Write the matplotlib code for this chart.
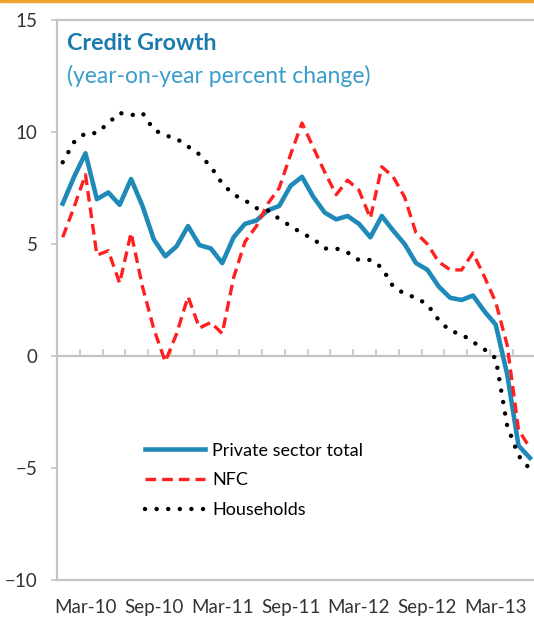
import numpy as np
import matplotlib
matplotlib.use("Agg")
import matplotlib.pyplot as plt
from matplotlib.patches import Rectangle

plt.rcParams['font.family'] = ['Lato', 'DejaVu Sans']

# monthly observations, Jan-10 .. Jun-13
months = np.arange(42)
tick_pos = [2, 8, 14, 20, 26, 32, 38]
tick_labels = ["Mar-10", "Sep-10", "Mar-11", "Sep-11", "Mar-12", "Sep-12", "Mar-13"]

private_total = [6.8, 8.0, 9.05, 7.0, 7.3, 6.75, 7.9, 6.7, 5.2, 4.45,
                 4.9, 5.8, 4.95, 4.8, 4.15, 5.3, 5.9, 6.05, 6.5, 6.7,
                 7.6, 8.0, 7.1, 6.4, 6.1, 6.25, 5.9, 5.3, 6.25, 5.6,
                 5.0, 4.15, 3.85, 3.1, 2.6, 2.5, 2.7, 2.0, 1.4, -0.8,
                 -4.0, -4.55]
nfc = [5.3, 6.65, 8.1, 4.5, 4.7, 3.25, 5.5, 3.1, 1.2, -0.25,
       1.0, 2.65, 1.25, 1.5, 1.0, 3.5, 5.1, 5.8, 6.8, 7.5,
       9.0, 10.4, 9.3, 8.2, 7.2, 7.85, 7.4, 6.15, 8.45, 8.0,
       7.1, 5.5, 5.0, 4.2, 3.85, 3.84, 4.6, 3.55, 2.4, 0.5,
       -3.3, -4.1]
households = [8.65, 9.55, 9.95, 9.95, 10.4, 10.85, 10.75, 10.85, 10.1, 9.85,
              9.7, 9.35, 9.0, 8.45, 7.7, 7.2, 6.95, 6.6, 6.5, 6.12,
              5.8, 5.48, 5.23, 4.8, 4.8, 4.62, 4.28, 4.29, 3.95, 3.1,
              2.78, 2.6, 2.3, 1.6, 1.12, 0.97, 0.63, 0.3, -0.1, -3.1,
              -4.45, -5.05]

grey = '#c4c4c4'
blue = '#1f8ab8'
red = '#ff1f1f'

fig = plt.figure(figsize=(5.34, 6.19), dpi=100)
ax = fig.add_axes([57 / 534, 39 / 619, 490 / 534, 560 / 619])

ax.plot(months, private_total, color=blue, lw=3.3, label="Private sector total",
        solid_joinstyle='round')
ax.plot(months, nfc, color=red, lw=2.4, linestyle=(0, (3.2, 1.8)), label="NFC")
ax.plot(months, households, color='black', lw=3.2, linestyle=(0, (0.01, 2.6)),
        dash_capstyle='round', label="Households")

ax.set_xlim(-0.5, 42.5)
ax.set_ylim(-10, 15)
ax.set_yticks([-10, -5, 0, 5, 10, 15])
ax.set_xticks(tick_pos)
ax.set_xticklabels(tick_labels)
ax.tick_params(axis='x', length=0, pad=14, labelsize=13.5, colors='#333333')
ax.tick_params(axis='y', length=4, width=1.2, color=grey, pad=10, labelsize=13.5,
               labelcolor='#333333')

for side in ['left', 'bottom', 'top']:
    ax.spines[side].set_color(grey)
    ax.spines[side].set_linewidth(1.6)
ax.spines['right'].set_visible(False)

# zero line with small upward ticks between every two months
zero_axis = ax.secondary_xaxis(10 / 25)
zero_axis.set_xticks(np.arange(1.5, 42, 2))
zero_axis.tick_params(direction='in', length=5, width=1.2, color=grey,
                      labelbottom=False, labeltop=False)
zero_axis.spines['bottom'].set_color(grey)
zero_axis.spines['bottom'].set_linewidth(1.6)

ax.text(0.021, 0.958, "Credit Growth", transform=ax.transAxes, fontsize=16.8,
        fontweight='bold', color='#1a7cad', va='center', ha='left')
ax.text(0.021, 0.9, "(year-on-year percent change)", transform=ax.transAxes,
        fontsize=16.5, color='#3a9dcb', va='center', ha='left')

ax.legend(loc='upper left', bbox_to_anchor=(0.18, 0.245), frameon=False,
          fontsize=13, handlelength=3.3, handletextpad=0.4, labelspacing=0.75,
          borderpad=0, borderaxespad=0)

# orange rule along the top edge
fig.patches.append(Rectangle((0, 1 - 2 / 619), 1, 2 / 619, transform=fig.transFigure,
                             color='#f0a030', zorder=5))

fig.savefig("out.png", dpi=100)
